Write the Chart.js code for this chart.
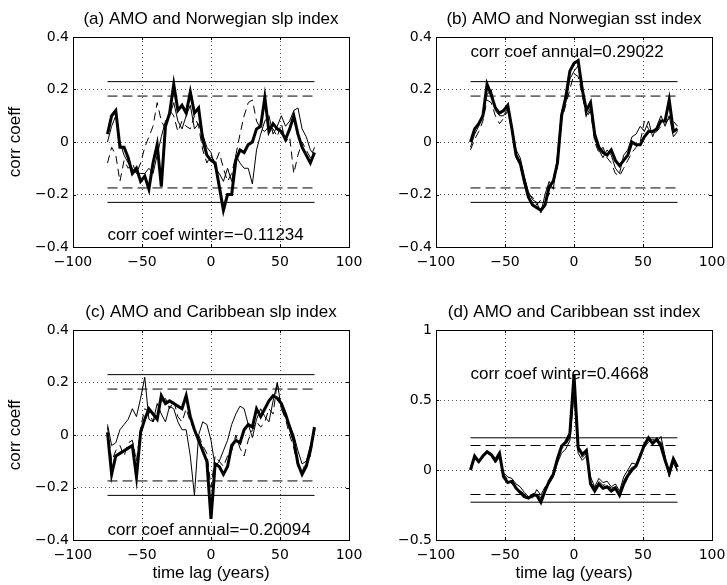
<!DOCTYPE html>
<html>
<head>
<meta charset="utf-8">
<script src="https://cdn.jsdelivr.net/npm/chart.js@4"></script>
<style>
html, body { margin: 0; padding: 0; background: #fff; }
#wrap { position: relative; width: 727px; height: 585px; }
canvas { position: absolute; }
</style>
</head>
<body>
<div id="wrap">
  <canvas id="pa" width="363" height="290" style="left:0px;top:0px"></canvas>
  <canvas id="pb" width="364" height="290" style="left:363px;top:0px"></canvas>
  <canvas id="pc" width="363" height="295" style="left:0px;top:290px"></canvas>
  <canvas id="pd" width="364" height="295" style="left:363px;top:290px"></canvas>
</div>
<script>
// lag em anos
const lags = [-75, -72, -69, -66, -63, -60, -57, -54, -51, -48, -45, -42, -39, -36, -33, -30, -27,
  -24, -21, -18, -15, -12, -9, -6, -3, 0, 3, 6, 9, 12, 15, 18, 21, 24, 27, 30, 33, 36, 39, 42,
  45, 48, 51, 54, 57, 60, 63, 66, 69, 72, 75];

// linhas de significancia
const sigX = [-75, 75];
const sigSolid = [0.23, -0.23];
const sigDash = [0.175, -0.175];

// (a) Norwegian slp
const aThick = [0.03, 0.10, 0.12, -0.02, -0.02, -0.06, -0.12, -0.10, -0.15, -0.13,
  -0.18, -0.08, -0.01, -0.17, 0.06, 0.11, 0.22, 0.12, 0.14, 0.11,
  0.19, 0.11, 0.13, 0.01, -0.05, -0.07, -0.08, -0.17, -0.26, -0.20,
  -0.20, -0.07, -0.03, -0.04, -0.01, 0.00, 0.05, 0.06, 0.17, 0.04,
  0.07, 0.05, 0.04, 0.01, 0.05, 0.10, 0.03, -0.02, -0.05, -0.08,
  -0.04];
const aThin = [0.00, 0.06, 0.10, 0.00, -0.05, -0.08, -0.10, -0.12, -0.12, -0.12,
  -0.10, -0.12, -0.05, 0.02, 0.08, 0.10, 0.15, 0.08, 0.05, 0.10,
  0.14, 0.05, 0.07, 0.03, -0.02, -0.04, -0.10, -0.12, -0.15, -0.10,
  -0.15, -0.05, -0.08, -0.10, -0.10, -0.16, -0.03, 0.03, 0.08, 0.10,
  0.03, 0.06, 0.10, 0.06, 0.08, 0.12, 0.13, 0.05, 0.02, -0.03,
  -0.05];
const aDash = [-0.08, -0.02, -0.05, -0.15, -0.07, -0.10, -0.08, -0.12, -0.08, -0.02,
  0.02, 0.06, 0.15, 0.08, 0.05, 0.12, 0.10, 0.04, 0.08, 0.06,
  0.05, 0.10, 0.06, -0.03, -0.08, -0.05, -0.08, -0.04, -0.10, -0.15,
  -0.12, -0.05, 0.03, 0.10, 0.15, 0.16, 0.08, 0.05, 0.04, 0.06,
  0.05, 0.02, 0.07, 0.00, 0.02, -0.12, -0.05, 0.00, -0.03, -0.06,
  -0.02];

// (b) Norwegian sst
const bThick = [0.00, 0.05, 0.07, 0.10, 0.22, 0.18, 0.13, 0.11, 0.12, 0.14,
  0.05, -0.05, -0.08, -0.15, -0.21, -0.24, -0.25, -0.26, -0.24, -0.17,
  -0.15, -0.08, 0.10, 0.17, 0.27, 0.30, 0.31, 0.20, 0.12, 0.15,
  0.03, -0.02, -0.04, -0.05, -0.03, -0.07, -0.09, -0.07, -0.05, 0.00,
  -0.01, -0.01, 0.02, 0.04, 0.04, 0.05, 0.08, 0.08, 0.16, 0.04,
  0.05];
const bThin = [-0.02, 0.03, 0.06, 0.11, 0.18, 0.20, 0.12, 0.10, 0.10, 0.13,
  0.06, -0.03, -0.06, -0.13, -0.19, -0.22, -0.23, -0.27, -0.20, -0.15,
  -0.18, -0.05, 0.12, 0.15, 0.24, 0.27, 0.29, 0.22, 0.10, 0.13,
  0.01, -0.03, -0.06, -0.03, -0.05, -0.10, -0.12, -0.05, -0.03, 0.02,
  0.03, 0.06, 0.04, 0.08, 0.02, 0.06, 0.10, 0.06, 0.10, 0.02,
  0.04];
const bDash = [-0.03, 0.01, 0.04, 0.08, 0.16, 0.15, 0.10, 0.07, 0.09, 0.12,
  0.04, -0.06, -0.09, -0.16, -0.20, -0.21, -0.24, -0.22, -0.22, -0.20,
  -0.13, -0.10, 0.08, 0.14, 0.20, 0.26, 0.25, 0.18, 0.09, 0.12,
  0.00, -0.04, -0.02, -0.06, -0.08, -0.12, -0.13, -0.10, -0.07, -0.04,
  -0.02, 0.00, 0.08, 0.05, 0.03, 0.04, 0.06, 0.07, 0.09, 0.08,
  0.06];

// (c) Caribbean slp
const cThick = [0.01, -0.15, -0.08, -0.07, -0.06, -0.05, -0.04, -0.16, 0.01, 0.06,
  0.10, 0.08, 0.06, 0.15, 0.12, 0.13, 0.12, 0.11, 0.10, 0.15,
  0.07, 0.02, -0.02, -0.06, -0.10, -0.32, -0.11, -0.12, -0.15, -0.12,
  -0.04, -0.02, -0.03, 0.02, 0.04, 0.03, 0.10, 0.07, 0.10, 0.13,
  0.15, 0.14, 0.12, 0.08, 0.03, -0.02, -0.11, -0.15, -0.12, -0.06,
  0.03];
const cThin = [0.04, -0.04, -0.03, 0.02, 0.04, 0.06, 0.10, 0.07, 0.14, 0.22,
  0.06, 0.05, 0.12, 0.08, 0.05, 0.11, 0.10, 0.05, 0.02, 0.02,
  -0.08, -0.23, 0.00, 0.05, 0.04, -0.02, -0.12, -0.10, -0.06, -0.02,
  0.04, 0.08, 0.11, 0.10, 0.04, -0.01, 0.06, 0.10, 0.07, 0.05,
  0.13, 0.20, 0.10, 0.07, 0.04, 0.00, -0.06, -0.11, -0.10, -0.04,
  0.01];
const cDash = [0.03, -0.10, -0.06, -0.04, -0.08, -0.03, -0.02, -0.10, 0.03, 0.10,
  0.09, 0.05, 0.08, 0.12, 0.14, 0.10, 0.13, 0.07, 0.05, 0.10,
  0.05, 0.02, 0.00, -0.04, -0.07, -0.20, -0.08, -0.10, -0.12, -0.08,
  -0.06, 0.00, -0.05, -0.08, -0.02, 0.02, 0.05, 0.03, 0.05, 0.10,
  0.08, 0.20, 0.10, 0.06, 0.00, -0.05, -0.12, -0.14, -0.10, -0.08,
  0.02];

// (d) Caribbean sst
const dThick = [0.00, 0.10, 0.06, 0.10, 0.13, 0.11, 0.07, 0.12, -0.05, -0.09,
  -0.08, -0.13, -0.16, -0.19, -0.20, -0.18, -0.18, -0.23, -0.15, -0.08,
  -0.03, 0.08, 0.17, 0.20, 0.26, 0.68, 0.16, 0.11, 0.14, -0.10,
  -0.15, -0.10, -0.13, -0.12, -0.15, -0.13, -0.18, -0.10, -0.04, 0.00,
  0.03, 0.10, 0.18, 0.23, 0.19, 0.22, 0.17, 0.07, -0.02, 0.08,
  0.02];
const dThin = [0.02, 0.08, 0.05, 0.11, 0.12, 0.10, 0.05, 0.09, -0.02, -0.05,
  -0.06, -0.10, -0.12, -0.16, -0.19, -0.20, -0.14, -0.18, -0.12, -0.10,
  -0.05, 0.05, 0.12, 0.15, 0.21, 0.55, 0.12, 0.07, 0.10, -0.05,
  -0.12, -0.06, -0.09, -0.08, -0.12, -0.10, -0.15, -0.05, 0.00, 0.05,
  0.04, 0.12, 0.16, 0.20, 0.22, 0.20, 0.24, 0.10, -0.05, 0.05,
  -0.01];
const dDash = [0.01, 0.09, 0.07, 0.09, 0.12, 0.12, 0.06, 0.10, -0.03, -0.07,
  -0.10, -0.12, -0.15, -0.17, -0.21, -0.17, -0.16, -0.20, -0.13, -0.09,
  -0.04, 0.06, 0.15, 0.18, 0.23, 0.60, 0.14, 0.09, 0.12, -0.08,
  -0.13, -0.08, -0.11, -0.10, -0.13, -0.12, -0.17, -0.08, -0.02, 0.02,
  0.02, 0.11, 0.17, 0.21, 0.20, 0.21, 0.20, 0.08, -0.03, 0.06,
  0.00];

const textFont = '17px "Liberation Sans", Arial, Helvetica, sans-serif';
const tickFont = { family: '"DejaVu Sans", sans-serif', size: 14 };

function fmt(v) {
  const r = Math.round(v * 100) / 100;
  return r < 0 ? '\u2212' + Math.abs(r) : String(r);
}

function pts(vals) {
  return lags.map((x, i) => ({ x: x, y: vals[i] }));
}

function hline(y, dash) {
  return {
    data: sigX.map(x => ({ x: x, y: y })),
    borderColor: '#000', borderWidth: 1, borderDash: dash, pointRadius: 0
  };
}

// textos e moldura estilo matlab
const framePlugin = {
  id: 'frame',
  afterDraw(chart) {
    const o = chart.options.plugins.frame;
    const ctx = chart.ctx;
    const a = chart.chartArea;
    const xs = chart.scales.x, ys = chart.scales.y;
    ctx.save();
    ctx.strokeStyle = '#000';
    ctx.lineWidth = 1;
    ctx.setLineDash([]);
    ctx.strokeRect(Math.round(a.left) + 0.5, Math.round(a.top) + 0.5,
      Math.round(a.right - a.left), Math.round(a.bottom - a.top));
    // marcas internas
    ctx.beginPath();
    xs.ticks.forEach(t => {
      const px = Math.round(xs.getPixelForValue(t.value)) + 0.5;
      ctx.moveTo(px, a.bottom); ctx.lineTo(px, a.bottom - 3);
      ctx.moveTo(px, a.top); ctx.lineTo(px, a.top + 3);
    });
    ys.ticks.forEach(t => {
      const py = Math.round(ys.getPixelForValue(t.value)) + 0.5;
      ctx.moveTo(a.left, py); ctx.lineTo(a.left + 3, py);
      ctx.moveTo(a.right, py); ctx.lineTo(a.right - 3, py);
    });
    ctx.stroke();

    ctx.fillStyle = '#000';
    ctx.font = textFont;
    ctx.textAlign = 'center';
    ctx.textBaseline = 'alphabetic';
    ctx.fillText(o.title, (a.left + a.right) / 2, a.top - 13);
    if (o.xlabel) ctx.fillText(o.xlabel, (a.left + a.right) / 2, a.bottom + 38);
    ctx.textAlign = 'left';
    ctx.fillText(o.note, xs.getPixelForValue(o.noteX), ys.getPixelForValue(o.noteY));
    if (o.ylabel) {
      ctx.translate(15, (a.top + a.bottom) / 2);
      ctx.rotate(-Math.PI / 2);
      ctx.textAlign = 'center';
      ctx.textBaseline = 'middle';
      ctx.fillText(o.ylabel, 0, 0);
    }
    ctx.restore();
  }
};

function panel(id, p) {
  const cv = document.getElementById(id);
  const topPad = p.top;
  const bottomH = cv.height - p.bottom;
  new Chart(cv.getContext('2d'), {
    type: 'line',
    data: {
      datasets: [
        { data: pts(p.thick), borderColor: '#000', borderWidth: 3, pointRadius: 0 },
        { data: pts(p.thin), borderColor: '#000', borderWidth: 1, pointRadius: 0 },
        { data: pts(p.dash), borderColor: '#000', borderWidth: 1, borderDash: [8, 5], pointRadius: 0 },
        hline(sigSolid[0], []), hline(sigSolid[1], []),
        hline(sigDash[0], [10, 5]), hline(sigDash[1], [10, 5])
      ]
    },
    options: {
      responsive: false,
      animation: false,
      layout: { padding: { left: 0, top: topPad, right: cv.width - 349, bottom: 0 } },
      plugins: {
        legend: { display: false },
        tooltip: { enabled: false },
        frame: p.frame
      },
      scales: {
        x: {
          type: 'linear', min: -100, max: 100,
          ticks: { stepSize: 50, callback: fmt, font: tickFont, color: '#000', padding: 7, maxRotation: 0 },
          grid: { color: '#555', lineWidth: 1, drawTicks: false },
          border: { display: false, dash: [1, 3] },
          afterFit: s => { s.height = bottomH; s.paddingLeft = 0; s.paddingRight = 0; }
        },
        y: {
          min: p.yMin, max: p.yMax,
          ticks: { stepSize: p.yStep, callback: fmt, font: tickFont, color: '#000', padding: 4 },
          grid: { color: '#555', lineWidth: 1, drawTicks: false },
          border: { display: false, dash: [1, 3] },
          afterFit: s => { s.width = 73; s.paddingTop = 0; s.paddingBottom = 0; }
        }
      }
    },
    plugins: [framePlugin]
  });
}

panel('pa', {
  thick: aThick, thin: aThin, dash: aDash, yMin: -0.4, yMax: 0.4, yStep: 0.2, top: 37, bottom: 247,
  frame: { title: '(a) AMO and Norwegian slp index', ylabel: 'corr coeff',
    note: 'corr coef winter=\u22120.11234', noteX: -75, noteY: -0.372 }
});
panel('pb', {
  thick: bThick, thin: bThin, dash: bDash, yMin: -0.4, yMax: 0.4, yStep: 0.2, top: 37, bottom: 247,
  frame: { title: '(b) AMO and Norwegian sst index',
    note: 'corr coef annual=0.29022', noteX: -75, noteY: 0.325 }
});
panel('pc', {
  thick: cThick, thin: cThin, dash: cDash, yMin: -0.4, yMax: 0.4, yStep: 0.2, top: 40, bottom: 250,
  frame: { title: '(c) AMO and Caribbean slp index', ylabel: 'corr coeff', xlabel: 'time lag (years)',
    note: 'corr coef annual=\u22120.20094', noteX: -75, noteY: -0.38 }
});
panel('pd', {
  thick: dThick, thin: dThin, dash: dDash, yMin: -0.5, yMax: 1, yStep: 0.5, top: 40, bottom: 250,
  frame: { title: '(d) AMO and Caribbean sst index', xlabel: 'time lag (years)',
    note: 'corr coef winter=0.4668', noteX: -75, noteY: 0.653 }
});
</script>
</body>
</html>
